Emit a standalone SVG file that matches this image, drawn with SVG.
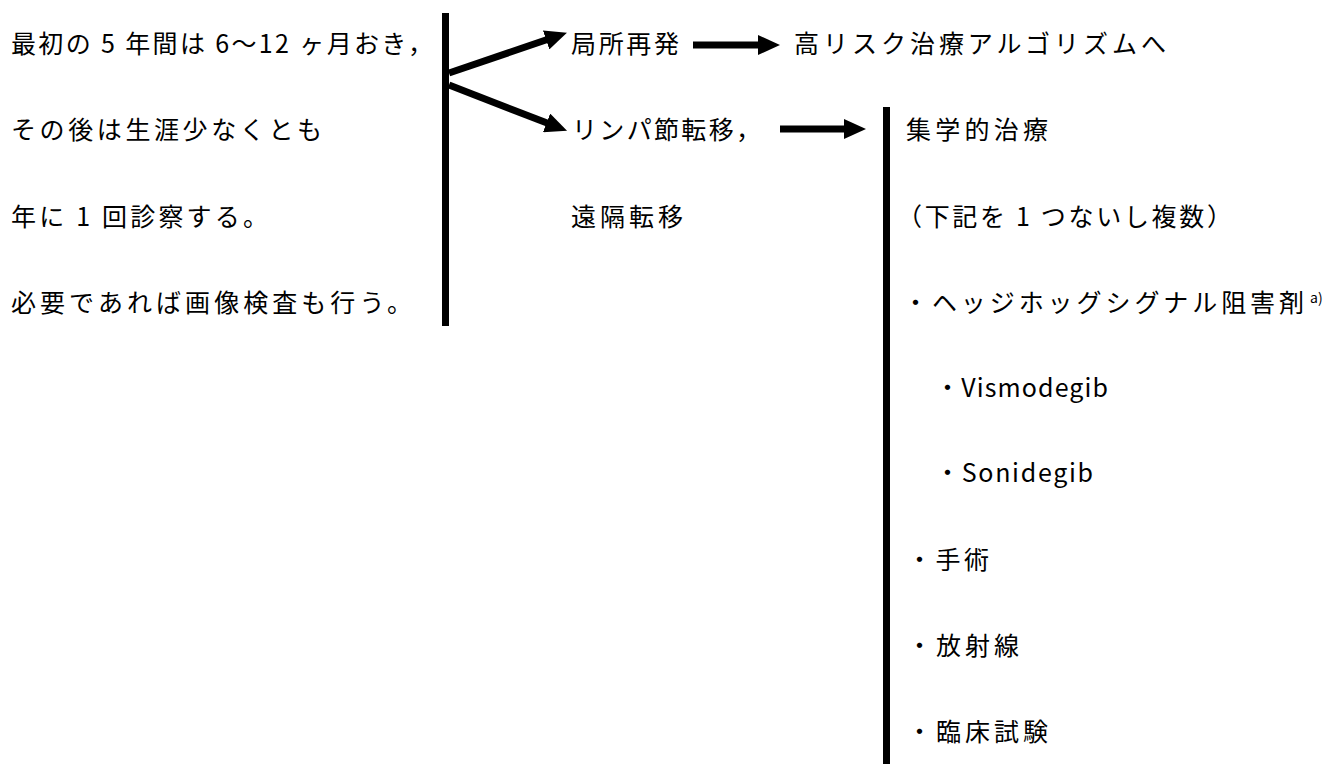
<svg xmlns="http://www.w3.org/2000/svg" width="1334" height="764" viewBox="0 0 1334 764">
<style>
  text { font-family: "Noto Sans CJK JP", "Noto Sans", sans-serif; font-size: 25px; fill: #000; }
  .sup { font-size: 14px; }
  .conn { stroke: #000; stroke-width: 7; fill: none; }
  .bar { fill: #000; }
</style>
<defs>
  <marker id="ah" viewBox="0 0 22 20" refX="2" refY="10" markerWidth="22" markerHeight="20" markerUnits="userSpaceOnUse" orient="auto">
    <path d="M0,0 L22,10 L0,20 z" fill="#000"/>
  </marker>
</defs>
<rect width="1334" height="764" fill="#fff"/>

<g id="connectors">
  <rect class="bar" x="442" y="13" width="7" height="313"/>
  <rect class="bar" x="883" y="107" width="7" height="657"/>
  <line class="conn" x1="449" y1="73" x2="548" y2="39.3" marker-end="url(#ah)"/>
  <line class="conn" x1="449" y1="85" x2="548.4" y2="123.6" marker-end="url(#ah)"/>
  <line class="conn" x1="693" y1="45" x2="760" y2="45" marker-end="url(#ah)"/>
  <line class="conn" x1="780" y1="129" x2="846" y2="129" marker-end="url(#ah)"/>
</g>

<g id="followup">
  <text x="11" y="53" textLength="422" lengthAdjust="spacing">最初の 5 年間は 6〜12 ヶ月おき，</text>
  <text x="11" y="139" textLength="311" lengthAdjust="spacing">その後は生涯少なくとも</text>
  <text x="11" y="226" textLength="257" lengthAdjust="spacing">年に 1 回診察する。</text>
  <text x="11" y="312" textLength="401" lengthAdjust="spacing">必要であれば画像検査も行う。</text>
</g>

<g id="local-recurrence">
  <text x="571" y="53" textLength="108" lengthAdjust="spacing">局所再発</text>
</g>

<g id="high-risk">
  <text x="794" y="53" textLength="372" lengthAdjust="spacing">高リスク治療アルゴリズムへ</text>
</g>

<g id="metastasis">
  <text x="572" y="139" textLength="189" lengthAdjust="spacing">リンパ節転移，</text>
  <text x="571" y="226" textLength="112" lengthAdjust="spacing">遠隔転移</text>
</g>

<g id="multidisciplinary">
  <text x="906" y="139" textLength="142" lengthAdjust="spacing">集学的治療</text>
  <text x="897" y="226" textLength="335" lengthAdjust="spacing">（下記を 1 つないし複数）</text>
  <text x="903" y="312" textLength="401" lengthAdjust="spacing">・ヘッジホッグシグナル阻害剤</text>
  <text class="sup" x="1310" y="303">a)</text>
  <text x="935" y="397" textLength="173" lengthAdjust="spacing">・Vismodegib</text>
  <text x="935" y="482" textLength="158" lengthAdjust="spacing">・Sonidegib</text>
  <text x="907" y="569" textLength="82" lengthAdjust="spacing">・手術</text>
  <text x="907" y="655" textLength="112" lengthAdjust="spacing">・放射線</text>
  <text x="907" y="741" textLength="141" lengthAdjust="spacing">・臨床試験</text>
</g>
</svg>
